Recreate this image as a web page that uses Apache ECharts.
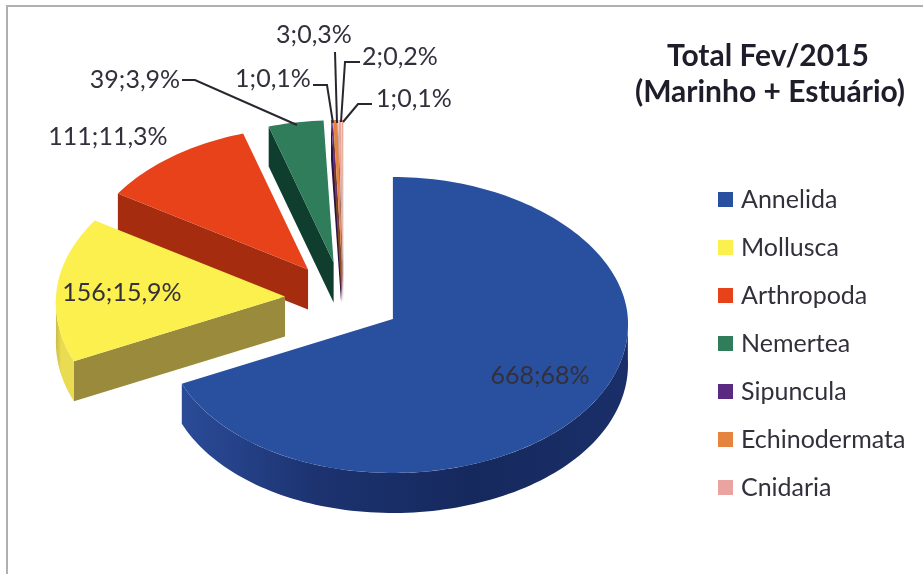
<!DOCTYPE html>
<html>
<head>
<meta charset="utf-8">
<style>html,body{margin:0;padding:0;background:#fff}#c{width:923px;height:574px}</style>
<script src="https://cdn.jsdelivr.net/npm/echarts@6/dist/echarts.min.js"></script>
</head>
<body>
<div id="c"></div>
<script>
const categories = ['Annelida','Mollusca','Arthropoda','Nemertea','Sipuncula','Echinodermata','Cnidaria','Outros'];
const legendCategories = ['Annelida','Mollusca','Arthropoda','Nemertea','Sipuncula','Echinodermata','Cnidaria'];
const values = [668,156,111,39,1,3,2,1];
const percentLabels = ['68%','15,9%','11,3%','3,9%','0,1%','0,3%','0,2%','0,1%'];
const titleLines = ['Total Fev/2015','(Marinho + Estuário)'];

const topColors = ['#28509f','#fbf04e','#e8421b','#2f7d5a','#5a2a82','#e5843f','#eba3a0','#e6a890'];
const wallColors = ['#1d3572','#9a8a3b','#a62c10','#0f3d2e','#2c1145','#8a4a20','#9a6a68','#a08070'];
const outerWall = {0:['#2b4b98','#1c3370','#16295e','#1a2f69'],1:['#cdbb45','#e9dc52','#e9dc52','#e9dc52']};

// 3-D projection of the pie
const CX=343.5, CY=299, RX=232, RY_BACK=142, RY_FRONT=154, DEPTH=40, EXPLODE=58.6, TILT=0.633;
const textColor='#33303c', FONT='Lato';
// label layout: [x, y, align] and leader path (ending on the slice's rim)
const labelPos = [[540,376,'center'],[122,293,'center'],[108,137,'center'],[135,80,'center'],[273,79,'center'],[314,35,'center'],[400,57,'center'],[414,99,'center']];
const leaders = [null,null,null,[[182,80],[195,80],[297,125]],[[313,85],[327,85],[333,123]],[[335,52],[337,123]],[[360,62],[345,62],[341,122]],[[372,104],[358,104],[343,122]]];

const total = values.reduce((a,b)=>a+b,0);
const rad = d => d*Math.PI/180;
function rim(o,a,z){
  const c=Math.cos(rad(a)), s=Math.sin(rad(a));
  const rx=RX+3*s-8*c;
  return [o[0]+rx*s,o[1]-c*(c>0?RY_BACK:RY_FRONT)+(z||0)];
}
function arc(o,a0,a1,z){const n=Math.max(2,Math.ceil((a1-a0)/1.5));const p=[];for(let i=0;i<=n;i++)p.push(rim(o,a0+(a1-a0)*i/n,z));return p;}

function makeItem(idx){
  return function(params,api){
    const before = values.slice(0,idx).reduce((a,b)=>a+b,0);
    const a0 = before/total*360, a1 = (before+api.value(0))/total*360, mid=(a0+a1)/2;
    const o = [CX+EXPLODE*Math.sin(rad(mid)), CY-EXPLODE*TILT*Math.cos(rad(mid))];
    const children=[];
    if(a0>=180){
      const t=rim(o,a0);
      children.push({type:'polygon',shape:{points:[o,t,[t[0],t[1]+DEPTH],[o[0],o[1]+DEPTH]]},style:{fill:wallColors[idx]}});
    }
    const w0=Math.max(a0,90), w1=Math.min(a1,270);
    if(w1>w0){
      const up=arc(o,w0,w1,0), down=arc(o,w0,w1,DEPTH).reverse();
      const s=outerWall[idx];
      children.push({type:'polygon',shape:{points:up.concat(down)},style:{fill:s?new echarts.graphic.LinearGradient(1,0,0,0,[{offset:0,color:s[3]},{offset:.35,color:s[2]},{offset:.7,color:s[1]},{offset:1,color:s[0]}]):wallColors[idx]}});
    }
    children.push({type:'polygon',shape:{points:[o].concat(arc(o,a0,a1,0))},style:{fill:topColors[idx]}});
    if(leaders[idx]) children.push({type:'polyline',shape:{points:leaders[idx]},style:{fill:'none',stroke:'#2a2630',lineWidth:2}});
    const p=labelPos[idx];
    children.push({type:'text',style:{text:api.value(0)+';'+percentLabels[idx],x:p[0],y:p[1],align:p[2],verticalAlign:'middle',fill:textColor,font:'25px '+FONT}});
    return {type:'group',children:children.map((c,i)=>{c.z2=(idx===0?400:Math.round(o[1]))+i;return c;})};
  };
}

const series = categories.map((name,i)=>({
  type:'custom',name:name,coordinateSystem:'none',silent:true,animation:false,
  z:2,itemStyle:{color:topColors[i]},
  data:[[values[i]]],renderItem:makeItem(i)
}));

const chart = echarts.init(document.getElementById('c'),null,{renderer:'canvas'});
chart.setOption({
  animation:false,backgroundColor:'#fff',
  title:[
    {text:titleLines[0],left:768,top:41,textAlign:'center',textStyle:{fontFamily:FONT,fontSize:30,fontWeight:'bold',color:'#1f1d2a'},padding:0},
    {text:titleLines[1],left:770,top:77,textAlign:'center',textStyle:{fontFamily:FONT,fontSize:30,fontWeight:'bold',color:'#1f1d2a'},padding:0}
  ],
  legend:{data:legendCategories,orient:'vertical',left:718,top:187,padding:0,icon:'rect',itemWidth:15,itemHeight:15,itemGap:23,selectedMode:false,
    textStyle:{fontFamily:FONT,fontSize:25,lineHeight:15,color:textColor,padding:[0,0,0,3]}},
  graphic:[
    {type:'polyline',shape:{points:[[7,574],[7,6],[923,6]]},style:{fill:'none',stroke:'#b0b0b0',lineWidth:2},silent:true}
  ],
  series:series
});
</script>
</body>
</html>
